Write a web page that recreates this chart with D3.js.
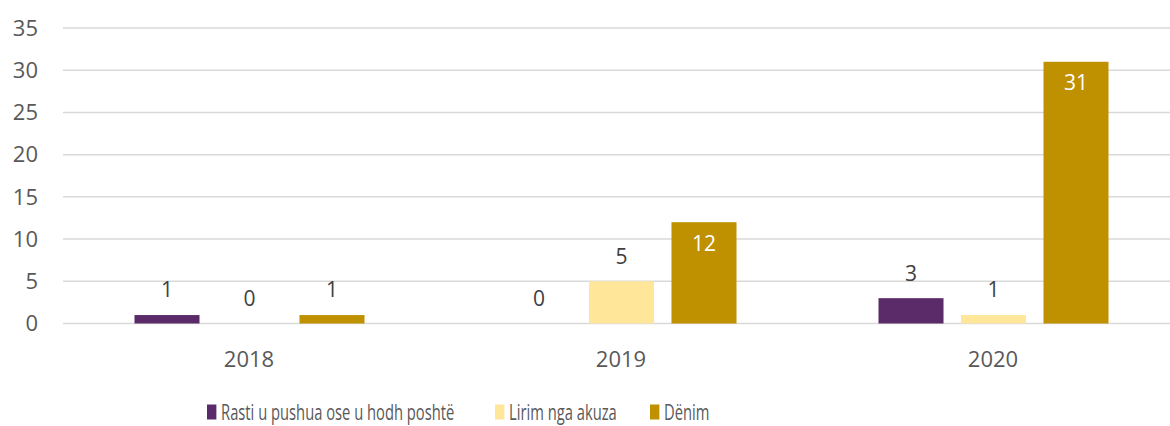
<!DOCTYPE html>
<html>
<head>
<meta charset="utf-8">
<script src="https://cdn.jsdelivr.net/npm/d3@7"></script>
<style>
  body { margin: 0; background: #fff; }
  text { font-family: "Open Sans", "Noto Sans", sans-serif; }
</style>
</head>
<body>
<svg id="chart"></svg>
<script>
var width = 1170, height = 426;

var years = ["2018", "2019", "2020"];
var seriesNames = ["Rasti u pushua ose u hodh poshtë", "Lirim nga akuza", "Dënim"];
var seriesColors = ["#5B2A68", "#FFE699", "#BF9000"];
var rasti = [1, 0, 3];
var lirim = [0, 5, 1];
var denim = [1, 12, 31];
var yTicks = [0, 5, 10, 15, 20, 25, 30, 35];

var values = [rasti, lirim, denim];

var svg = d3.select("#chart")
    .attr("width", width)
    .attr("height", height);

var x = d3.scaleBand()
    .domain(years)
    .range([63, 1179]);

var xs = d3.scaleBand()
    .domain(d3.range(seriesNames.length))
    .range([x.bandwidth()/2 - 114.5, x.bandwidth()/2 + 115.5])
    .paddingInner(0.212);

var y = d3.scaleLinear()
    .domain([0, 35])
    .range([323.5, 28]);

// gridlines
svg.append("g")
    .selectAll("line")
    .data(yTicks)
    .enter()
    .append("line")
    .attr("x1", 63)
    .attr("x2", width)
    .attr("y1", d => y(d))
    .attr("y2", d => y(d))
    .attr("stroke", "#d9d9d9")
    .attr("stroke-width", 1.5);

// y axis labels
svg.append("g")
    .selectAll("text")
    .data(yTicks)
    .enter()
    .append("text")
    .attr("x", 38)
    .attr("y", d => y(d))
    .attr("dy", "0.35em")
    .attr("text-anchor", "end")
    .attr("fill", "#595959")
    .style("font-size", "22px")
    .text(d => d);

// x axis labels
svg.append("g")
    .selectAll("text")
    .data(years)
    .enter()
    .append("text")
    .attr("x", d => x(d) + x.bandwidth()/2)
    .attr("y", 359)
    .attr("dy", "0.35em")
    .attr("text-anchor", "middle")
    .attr("fill", "#595959")
    .style("font-size", "22px")
    .text(d => d);

var bars = [];
years.forEach(function(yr, i){
    values.forEach(function(arr, s){
        bars.push({year: yr, s: s, v: arr[i]});
    });
});

svg.append("g")
    .selectAll("rect")
    .data(bars)
    .enter()
    .append("rect")
    .attr("x", d => x(d.year) + xs(d.s))
    .attr("width", xs.bandwidth())
    .attr("y", d => y(d.v))
    .attr("height", d => y(0) - y(d.v))
    .attr("fill", d => seriesColors[d.s]);

// value labels
svg.append("g")
    .selectAll("text")
    .data(bars)
    .enter()
    .append("text")
    .attr("x", d => x(d.year) + xs(d.s) + xs.bandwidth()/2)
    .attr("y", function(d){
        if (d.s == 2 && d.v > 5) return y(d.v) + 21;
        return y(d.v) - 25;
    })
    .attr("dy", "0.35em")
    .attr("text-anchor", "middle")
    .attr("fill", d => (d.s == 2 && d.v > 5) ? "#ffffff" : "#404040")
    .style("font-size", "21px")
    .text(d => d.v);

// legend (the reference legend is squeezed horizontally)
var legendX = [207, 495, 650];
var legend = svg.append("g")
    .selectAll("g")
    .data(seriesNames)
    .enter()
    .append("g")
    .attr("transform", (d, i) => "translate(" + legendX[i] + ",412) scale(0.67,1)");

legend.append("rect")
    .attr("x", 0)
    .attr("y", -7.5)
    .attr("width", 14)
    .attr("height", 15)
    .attr("fill", (d, i) => seriesColors[i]);

legend.append("text")
    .attr("x", 21)
    .attr("y", 0)
    .attr("dy", "0.35em")
    .attr("fill", "#595959")
    .style("font-size", "22px")
    .text(d => d);
</script>
</body>
</html>
